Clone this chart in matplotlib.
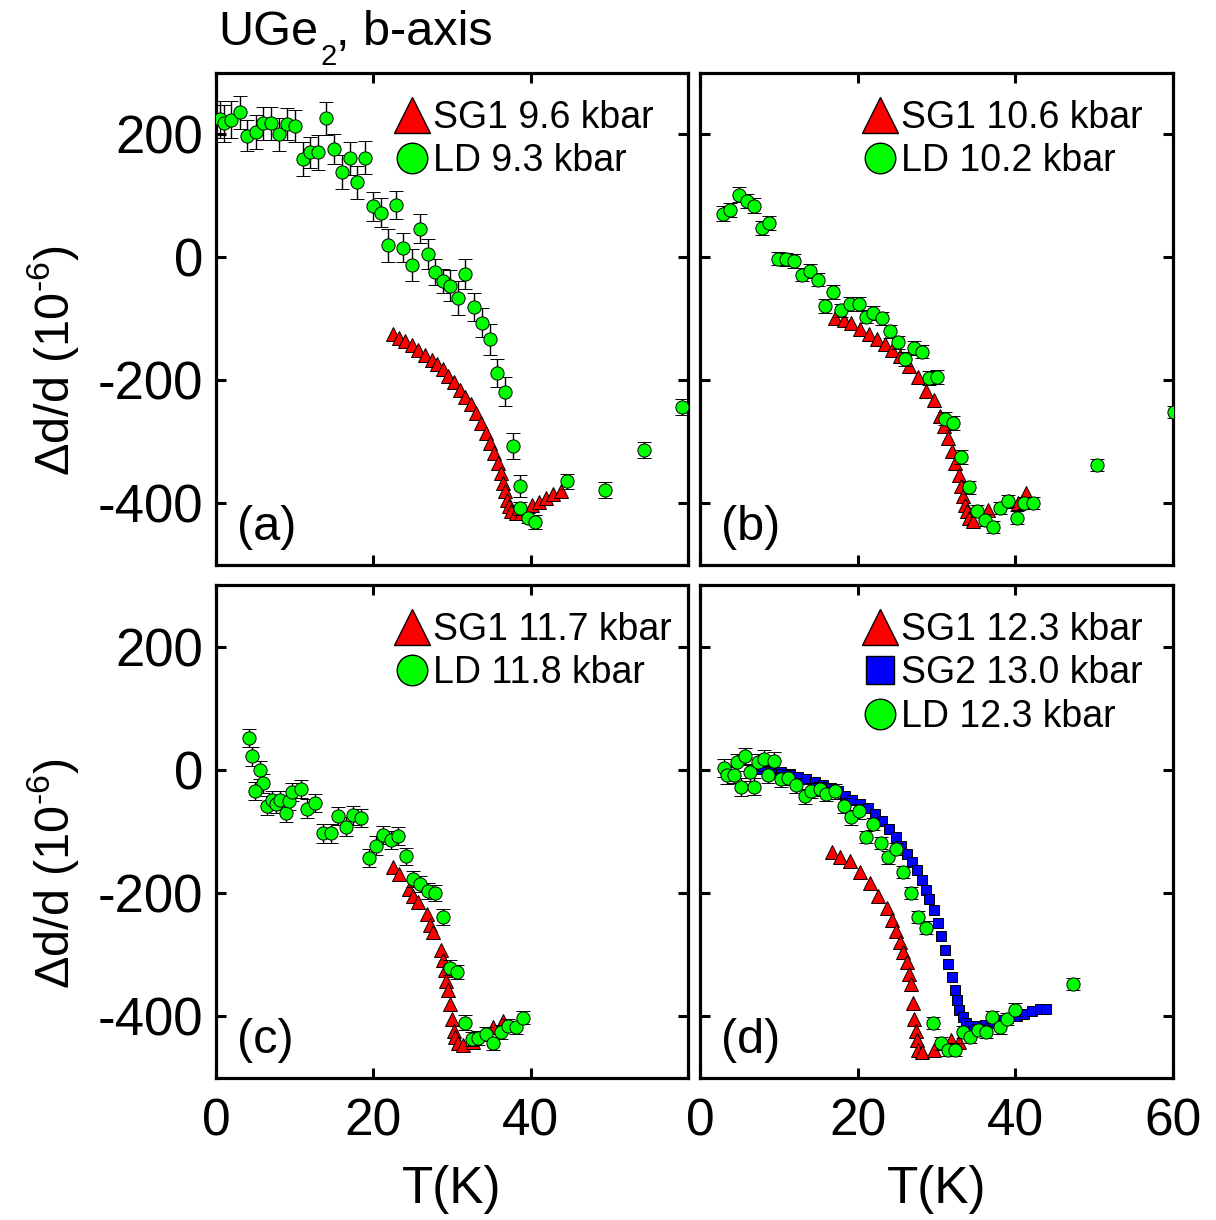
import matplotlib
matplotlib.use("Agg")
import matplotlib.pyplot as plt
from matplotlib.lines import Line2D
import numpy as np

plt.rcParams["font.family"] = ["Liberation Sans", "DejaVu Sans"]
plt.rcParams["mathtext.fontset"] = "custom"
plt.rcParams["mathtext.rm"] = "Liberation Sans"
plt.rcParams["mathtext.it"] = "Liberation Sans:italic"
plt.rcParams["mathtext.default"] = "regular"
plt.rcParams["axes.unicode_minus"] = False

# ---------------- (a) ----------------
a_ld_T = [0.55, 1.0, 1.9, 3.1, 4.0, 5.1, 6.0, 7.0, 8.0, 9.0, 10.0, 11.05, 11.9, 13.0,
          14.0, 15.0, 16.0, 17.0, 17.9, 18.9, 20.0, 21.0, 21.9, 22.9, 23.8, 24.9,
          25.9, 26.9, 27.8, 28.8, 29.8, 30.8, 31.7, 32.8, 33.8, 34.8, 35.7, 36.7,
          37.7, 38.7, 38.7, 39.7, 40.6, 44.6, 49.5, 54.4, 59.2]
a_ld_d = [225, 218, 224, 236, 198, 204, 218, 218, 200, 217, 214, 160, 171, 171,
          226, 176, 139, 161, 122, 162, 83, 73, 20, 85, 16, -12,
          47, 6, -23, -38, -46, -66, -27, -80, -106, -133, -188, -218,
          -306, -371, -408, -423, -430, -364, -378, -313, -243]
a_ld_err = [30, 30, 30, 27, 25, 28, 27, 27, 27, 26, 26, 27, 25, 28,
            27, 24, 27, 27, 27, 27, 23, 24, 27, 23, 24, 26,
            24, 24, 21, 19, 25, 27, 24, 23, 24, 25, 23, 24,
            21, 18, 10, 8, 12, 12, 13, 13, 13]
a_sg1_T = [22.5, 23.3, 24.05, 24.9, 25.7, 26.6, 27.4, 28.1, 28.8, 29.5, 30.25, 31.0,
           31.7, 32.4, 33.0, 33.7, 34.3, 34.8, 35.4, 35.8, 36.2, 36.5, 36.75, 37.0,
           37.3, 37.55, 38.1, 38.8, 40.2, 41.05, 42.0, 42.9, 43.9]
a_sg1_d = [-124, -131, -136, -143, -150, -158, -166, -174, -182, -192, -203, -215,
           -227, -239, -253, -269, -285, -301, -318, -334, -350, -366, -380, -394,
           -404, -413, -416, -415, -403, -398, -391, -384, -379]

# ---------------- (b) ----------------
b_ld_T = [2.85, 3.83, 4.9, 5.96, 6.8, 7.8, 8.8, 9.9, 10.85, 11.9, 12.9, 14.0, 15.0,
          15.9, 16.9, 17.9, 19.0, 20.1, 21.1, 22.0, 23.1, 24.1, 25.1, 26.0, 27.1,
          28.1, 29.1, 30.1, 31.1, 32.1, 33.1, 34.1, 35.1, 36.2, 37.2, 38.0, 39.1,
          40.2, 41.1, 42.2, 50.3, 60.1]
b_ld_d = [71, 77, 102, 92, 84, 48, 56, -2, -3, -6, -28, -22, -36,
          -79, -56, -86, -76, -76, -96, -90, -99, -120, -138, -165, -147,
          -153, -196, -194, -262, -269, -324, -374, -412, -427, -438, -407, -396,
          -423, -399, -399, -337, -251]
b_ld_err = [12, 12, 12, 12, 12, 12, 12, 11, 11, 11, 11, 11, 11,
            11, 11, 11, 11, 11, 11, 11, 11, 11, 11, 11, 11,
            11, 11, 11, 11, 11, 11, 11, 10, 10, 10, 10, 10,
            10, 10, 10, 10, 10]
b_sg1_T = [17.1, 18.2, 19.2, 20.3, 21.4, 22.4, 23.5, 24.4, 25.4, 26.5, 27.7, 28.7,
           29.7, 30.4, 30.9, 31.4, 32.0, 32.4, 32.8, 33.1, 33.4, 33.6, 33.8, 34.1,
           34.6, 36.5, 39.2, 40.3, 41.3]
b_sg1_d = [-98, -102, -107, -117, -125, -133, -141, -151, -160, -177, -194, -217,
           -232, -257, -274, -293, -315, -334, -353, -372, -388, -402, -412, -423,
           -428, -411, -396, -399, -383]

# ---------------- (c) ----------------
c_ld_T = [4.2, 4.6, 5.6, 6.0, 4.9, 6.5, 7.1, 7.6, 8.2, 8.9, 9.3, 9.7, 10.8, 11.6,
          12.6, 13.6, 14.6, 15.5, 16.5, 17.4, 18.4, 19.4, 20.3, 21.2, 22.2, 23.1,
          24.1, 25.0, 25.9, 26.9, 27.9, 28.8, 29.7, 30.7, 31.6, 32.5, 33.3, 34.3,
          35.2, 36.2, 37.1, 38.1, 39.0]
c_ld_d = [52, 22, 0, -22, -34, -58, -49, -55, -49, -70, -50, -36, -31, -63,
          -54, -103, -103, -75, -92, -74, -78, -143, -123, -106, -114, -107,
          -140, -177, -186, -196, -200, -239, -321, -328, -410, -437, -435, -429,
          -444, -425, -415, -418, -402]
c_ld_err = [15, 15, 15, 15, 15, 15, 15, 15, 15, 15, 15, 15, 15, 15,
            15, 15, 15, 15, 15, 15, 15, 15, 15, 15, 15, 15,
            14, 13, 13, 13, 13, 13, 12, 12, 12, 11, 11, 11,
            11, 11, 11, 11, 11]
c_sg1_T = [22.5, 23.3, 24.5, 25.1, 25.7, 26.8, 27.2, 27.6, 28.6, 28.9, 29.1, 29.3,
           29.5, 29.8, 30.0, 30.2, 30.4, 30.8, 31.4, 32.7, 35.2, 36.5]
c_sg1_d = [-158, -169, -193, -204, -215, -234, -252, -263, -293, -309, -325, -342,
           -358, -380, -404, -423, -434, -444, -447, -442, -418, -408]

# ---------------- (d) ----------------
d_ld_T = [3.06, 3.4, 4.3, 4.7, 5.2, 5.7, 6.3, 6.8, 7.3, 8.1, 8.6, 9.4, 10.3, 11.1,
          12.2, 13.3, 14.1, 15.2, 16.0, 17.1, 18.2, 19.1, 20.1, 21.0, 21.9, 22.9,
          23.8, 24.9, 25.8, 26.7, 27.7, 28.6, 29.6, 30.5, 31.5, 32.4, 33.4, 34.3,
          35.3, 36.3, 37.0, 38.0, 38.9, 39.9, 47.3]
d_ld_d = [3, -9, -8, 12, -28, 22, -4, -27, 12, 18, -8, 15, -15, -13,
          -25, -43, -34, -31, -39, -35, -58, -77, -67, -109, -88, -119,
          -142, -128, -166, -200, -239, -256, -411, -444, -454, -454, -425, -434,
          -422, -425, -401, -418, -404, -389, -347]
d_ld_err = [14, 14, 14, 14, 14, 14, 14, 14, 14, 14, 14, 14, 12, 12,
            12, 12, 12, 12, 12, 12, 12, 12, 12, 10, 10, 10,
            10, 10, 10, 10, 10, 10, 10, 10, 10, 10, 10, 10,
            10, 10, 10, 10, 10, 10, 10]
d_sg2_T = [7.7, 9.0, 10.3, 11.4, 12.4, 13.5, 14.6, 15.6, 16.6, 17.5, 18.4, 19.3,
           20.3, 21.3, 22.2, 23.1, 24.0, 24.8, 25.5, 26.3, 26.9, 27.5, 28.2, 28.7,
           29.1, 29.7, 30.2, 30.6, 31.1, 31.5, 31.9, 32.3, 32.6, 32.9, 33.3, 33.7,
           34.3, 35.2, 36.2, 37.2, 38.2, 39.1, 40.2, 41.1, 42.1, 43.1, 43.9]
d_sg2_d = [1, -1, -4, -7, -11, -15, -19, -24, -29, -35, -42, -49,
           -55, -62, -71, -83, -96, -109, -123, -136, -150, -163, -179, -195,
           -209, -228, -249, -270, -293, -315, -336, -357, -374, -389, -401, -410,
           -415, -416, -414, -411, -406, -403, -399, -396, -391, -388, -388]
d_sg1_T = [16.7, 17.7, 19.0, 20.3, 21.6, 22.6, 23.7, 24.4, 24.8, 25.4, 25.8, 26.3,
           26.5, 26.7, 27.0, 27.2, 27.4, 27.5, 27.7, 28.2, 29.7, 31.8, 32.9]
d_sg1_d = [-134, -142, -148, -166, -184, -204, -224, -244, -261, -279, -296, -312,
           -331, -347, -379, -404, -423, -439, -455, -458, -455, -438, -442]

# legend texts and panel tags
a_labels = ["SG1 9.6 kbar", "LD 9.3 kbar"]
b_labels = ["SG1 10.6 kbar", "LD 10.2 kbar"]
c_labels = ["SG1 11.7 kbar", "LD 11.8 kbar"]
d_labels = ["SG1 12.3 kbar", "SG2 13.0 kbar", "LD 12.3 kbar"]
panel_tags = ["(a)", "(b)", "(c)", "(d)"]

RED = "#ff0000"
GREEN = "#00ff00"
BLUE = "#0000ff"

fig = plt.figure(figsize=(12.16, 12.20), dpi=100)
positions = {
    "a": [0.1776, 0.5369, 0.3882, 0.4033],
    "b": [0.5757, 0.5369, 0.3890, 0.4033],
    "c": [0.1776, 0.1164, 0.3882, 0.4041],
    "d": [0.5757, 0.1164, 0.3890, 0.4041],
}
axes = {k: fig.add_axes(v) for k, v in positions.items()}


def style(ax):
    ax.set_xlim(0, 60)
    ax.set_ylim(-500, 300)
    ax.set_xticks([0, 20, 40, 60])
    ax.set_yticks([-400, -200, 0, 200])
    for s in ax.spines.values():
        s.set_linewidth(2.3)
    ax.tick_params(direction="in", length=7.5, width=2.2, top=True, right=True,
                   labelsize=38, pad=9)
    ax.tick_params(axis="x", labelsize=37, pad=14)


def tri(ax, T, d, z=2):
    ax.plot(T, d, ls="none", marker="^", ms=9.5, mfc=RED, mec="k", mew=0.7, zorder=z)


def sq(ax, T, d, z=3):
    ax.plot(T, d, ls="none", marker="s", ms=7.8, mfc=BLUE, mec="k", mew=0.7, zorder=z)


def circ(ax, T, d, e, z=4):
    ax.errorbar(T, d, yerr=e, ls="none", marker="o", ms=9.5, mfc=GREEN, mec="k",
                mew=0.7, ecolor="k", elinewidth=1.0, capsize=5, capthick=1.0, zorder=z)


def proxies(kinds):
    h = []
    for k in kinds:
        if k == "tri":
            h.append(Line2D([], [], ls="none", marker="^", ms=26, mfc=RED, mec="k", mew=1.0))
        elif k == "sq":
            h.append(Line2D([], [], ls="none", marker="s", ms=19.5, mfc=BLUE, mec="k", mew=1.0))
        else:
            h.append(Line2D([], [], ls="none", marker="o", ms=22, mfc=GREEN, mec="k", mew=1.0))
    return h


def legend(ax, kinds, labels, x):
    ax.legend(proxies(kinds), labels, loc="upper left", bbox_to_anchor=(x, 0.972),
              frameon=False, fontsize=27, handlelength=0.9, handletextpad=0.1,
              labelspacing=0.2, borderpad=0.35, borderaxespad=0.0)


ax = axes["a"]
style(ax)
tri(ax, a_sg1_T, a_sg1_d)
circ(ax, a_ld_T, a_ld_d, a_ld_err)
legend(ax, ["tri", "circ"], a_labels, 0.352)

ax = axes["b"]
style(ax)
tri(ax, b_sg1_T, b_sg1_d)
circ(ax, b_ld_T, b_ld_d, b_ld_err)
legend(ax, ["tri", "circ"], b_labels, 0.317)

ax = axes["c"]
style(ax)
tri(ax, c_sg1_T, c_sg1_d)
circ(ax, c_ld_T, c_ld_d, c_ld_err)
legend(ax, ["tri", "circ"], c_labels, 0.352)

ax = axes["d"]
style(ax)
tri(ax, d_sg1_T, d_sg1_d)
sq(ax, d_sg2_T, d_sg2_d)
circ(ax, d_ld_T, d_ld_d, d_ld_err)
legend(ax, ["tri", "sq", "circ"], d_labels, 0.317)

for key in ["a", "b"]:
    axes[key].tick_params(labelbottom=False)
for key in ["b", "d"]:
    axes[key].tick_params(labelleft=False)
axes["c"].set_xticklabels(["0", "20", "40", ""])
axes["d"].set_xticklabels(["0", "20", "40", "60"])

for key, tag in zip(["a", "b", "c", "d"], panel_tags):
    axes[key].text(0.045, 0.05, tag, transform=axes[key].transAxes, fontsize=35,
                   ha="left", va="baseline")

for key in ["c", "d"]:
    axes[key].set_xlabel("T(K)", fontsize=37, labelpad=13.5)

for key in ["a", "c"]:
    axes[key].set_ylabel(r"$\Delta$d/d (10$^{\text{-}6}$)", fontsize=35)
    axes[key].yaxis.set_label_coords(-0.285, 0.415)

# title with a small, low subscript: three pieces placed one after another
renderer = fig.canvas.get_renderer()
W, H = fig.bbox.width, fig.bbox.height
x0, base = 218 / 1216, 1 - 45 / 1220
t1 = fig.text(x0, base, "UGe", fontsize=35, ha="left", va="baseline")
x1 = t1.get_window_extent(renderer).x1 / W + 2 / W
t2 = fig.text(x1, base - 20 / H, "2", fontsize=21, ha="left", va="baseline")
x2 = t2.get_window_extent(renderer).x1 / W
fig.text(x2, base, ", b-axis", fontsize=35, ha="left", va="baseline")

fig.savefig("out.png", dpi=100)
